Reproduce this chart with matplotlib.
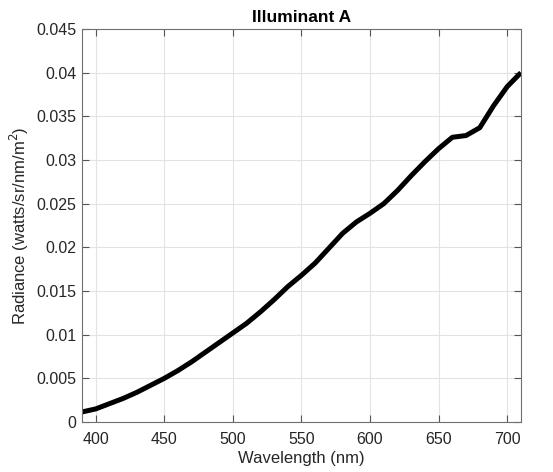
import matplotlib
matplotlib.use('Agg')
import matplotlib.pyplot as plt
import numpy as np

# illuminant A radiance
wavelength = [390, 400, 410, 420, 430, 440, 450, 460, 470, 480,
              490, 500, 510, 520, 530, 540, 550, 560, 570, 580,
              590, 600, 610, 620, 630, 640, 650, 660, 670, 680,
              690, 700, 710]
radiance = [0.00115, 0.0015, 0.0021, 0.0027, 0.0034, 0.0042, 0.0050, 0.0059, 0.0069, 0.0080,
            0.0091, 0.0102, 0.0113, 0.0126, 0.0140, 0.0155, 0.0168, 0.0182, 0.0199, 0.0216,
            0.0229, 0.0239, 0.0250, 0.0265, 0.0282, 0.0298, 0.0313, 0.0326, 0.0328, 0.0337,
            0.0362, 0.0384, 0.0400]
xticks = [400, 450, 500, 550, 600, 650, 700]
yticks = [0, 0.005, 0.01, 0.015, 0.02, 0.025, 0.03, 0.035, 0.04, 0.045]
ytick_labels = ['0', '0.005', '0.01', '0.015', '0.02', '0.025', '0.03', '0.035', '0.04', '0.045']

plt.rcParams['font.family'] = ['Liberation Sans', 'DejaVu Sans']

fig = plt.figure(figsize=(5.53, 4.72), dpi=100)
ax = fig.add_axes([0.1483, 0.1059, 0.7937, 0.8327])

ax.plot(wavelength, radiance, color='black', linewidth=3.6, solid_capstyle='butt')

ax.set_xlim(390, 710)
ax.set_ylim(0, 0.045)
ax.set_xticks(xticks)
ax.set_yticks(yticks)
ax.set_yticklabels(ytick_labels)
ax.grid(True, color='#e3e3e3', linewidth=0.8)
ax.set_axisbelow(True)
ax.tick_params(direction='in', top=True, right=True, length=5, width=0.8,
               color='#555555', labelsize=11.5, labelcolor='#262626', pad=4)
ax.tick_params(axis='x', pad=7)
for s in ax.spines.values():
    s.set_color('#707070')
    s.set_linewidth(0.8)

ax.set_title('Illuminant A', fontsize=12.5, fontweight='heavy', pad=5)
ax.set_xlabel('Wavelength (nm)', fontsize=12, color='#262626', labelpad=3)
ax.set_ylabel('Radiance (watts/sr/nm/m$^2$)', fontsize=12, color='#262626', labelpad=4)

fig.savefig('out.png', dpi=100)
